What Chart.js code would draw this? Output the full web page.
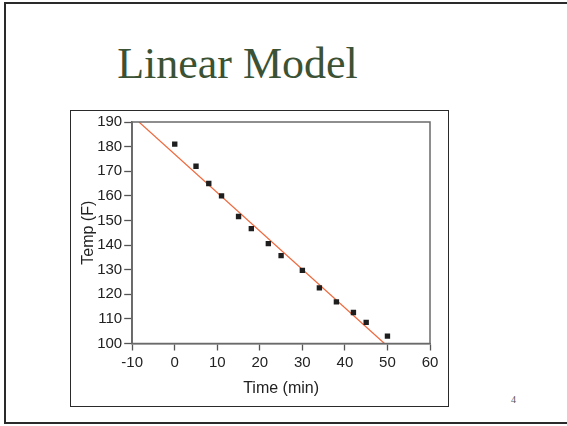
<!DOCTYPE html>
<html>
<head>
<meta charset="utf-8">
<script src="https://cdn.jsdelivr.net/npm/chart.js@4"></script>
<style>
  html, body { margin: 0; padding: 0; background: #fff; overflow: hidden; }
  body { width: 567px; height: 426px; position: relative; }
  .slide {
    position: absolute; left: 4px; top: 2px; width: 620px; height: 422px;
    border: 2px solid #2a2a2a; box-sizing: border-box;
  }
  .title {
    position: absolute; left: 0; width: 475px; top: 42px; margin: 0;
    text-align: center; font-family: "Liberation Serif", "DejaVu Serif", serif;
    font-weight: normal; font-size: 44px; line-height: 44px; color: #3b5234;
  }
  .chart-box {
    position: absolute; left: 70px; top: 110px; width: 379px; height: 297px;
    border: 1.5px solid #2a2a2a; box-sizing: border-box;
  }
  .page-num {
    position: absolute; left: 511px; top: 394px; font-family: "Liberation Serif", serif;
    font-size: 10px; color: #555;
  }
</style>
</head>
<body>
<div class="slide"></div>
<h1 class="title">Linear Model</h1>
<div class="chart-box"><canvas id="chart" width="376" height="294"></canvas></div>
<div class="page-num">4</div>
<script>
const timeMin = [0, 5, 8, 11, 15, 18, 22, 25, 30, 34, 38, 42, 45, 50]
const tempF = [181, 172, 165, 160, 151.6, 146.7, 140.6, 135.7, 129.7, 122.6, 116.9, 112.6, 108.6, 103]

// fitted line endpoints (where it leaves the plot)
const fitTime = [-8.4, 49.3]
const fitTemp = [190, 100]

const xTicks = { min: -10, max: 60, step: 10 }
const yTicks = { min: 100, max: 190, step: 10 }

const frame = {
    id: 'frame',
    afterDraw: chart => {
        const { ctx, chartArea: a } = chart
        ctx.save()
        ctx.strokeStyle = '#6a6a6a'
        ctx.lineWidth = 1.5
        ctx.strokeRect(a.left, a.top, a.right - a.left, a.bottom - a.top)
        ctx.restore()
    }
}

Chart.defaults.font.family = '"Liberation Sans", Arial, sans-serif'
Chart.defaults.color = '#222'

const ctx = document.getElementById('chart').getContext('2d')
new Chart(ctx, {
    type: 'scatter',
    data: {
        datasets: [
            {
                data: timeMin.map((t, i) => ({ x: t, y: tempF[i] })),
                pointStyle: 'rect',
                pointRadius: 3.8,
                backgroundColor: '#1e1e1e',
                borderColor: '#1e1e1e',
                borderWidth: 0
            },
            {
                type: 'line',
                data: fitTime.map((t, i) => ({ x: t, y: fitTemp[i] })),
                borderColor: '#ee6a3e',
                borderWidth: 1.2,
                pointRadius: 0,
                fill: false
            }
        ]
    },
    options: {
        responsive: false,
        animation: false,
        maintainAspectRatio: false,
        layout: { padding: { top: 9, right: 17, bottom: 5, left: 4 } },
        plugins: { legend: { display: false }, tooltip: { enabled: false } },
        scales: {
            x: {
                type: 'linear',
                min: xTicks.min, max: xTicks.max,
                afterFit: scale => { scale.height = 56.5 },
                ticks: { stepSize: xTicks.step, font: { size: 15 }, padding: 3 },
                grid: { drawOnChartArea: false, tickLength: 7, tickColor: '#555', tickWidth: 1.3 },
                border: { color: '#6a6a6a', width: 1.5 },
                title: { display: true, text: 'Time (min)', font: { size: 16 }, padding: { top: 4, bottom: 2 } }
            },
            y: {
                min: yTicks.min, max: yTicks.max,
                afterFit: scale => { scale.width = 57.2 },
                ticks: { stepSize: yTicks.step, font: { size: 15 }, padding: 2 },
                grid: { drawOnChartArea: false, tickLength: 8, tickColor: '#555', tickWidth: 1.3 },
                border: { color: '#6a6a6a', width: 1.5 },
                title: { display: true, text: 'Temp (F)', font: { size: 16 } }
            }
        }
    },
    plugins: [frame]
})
</script>
</body>
</html>
